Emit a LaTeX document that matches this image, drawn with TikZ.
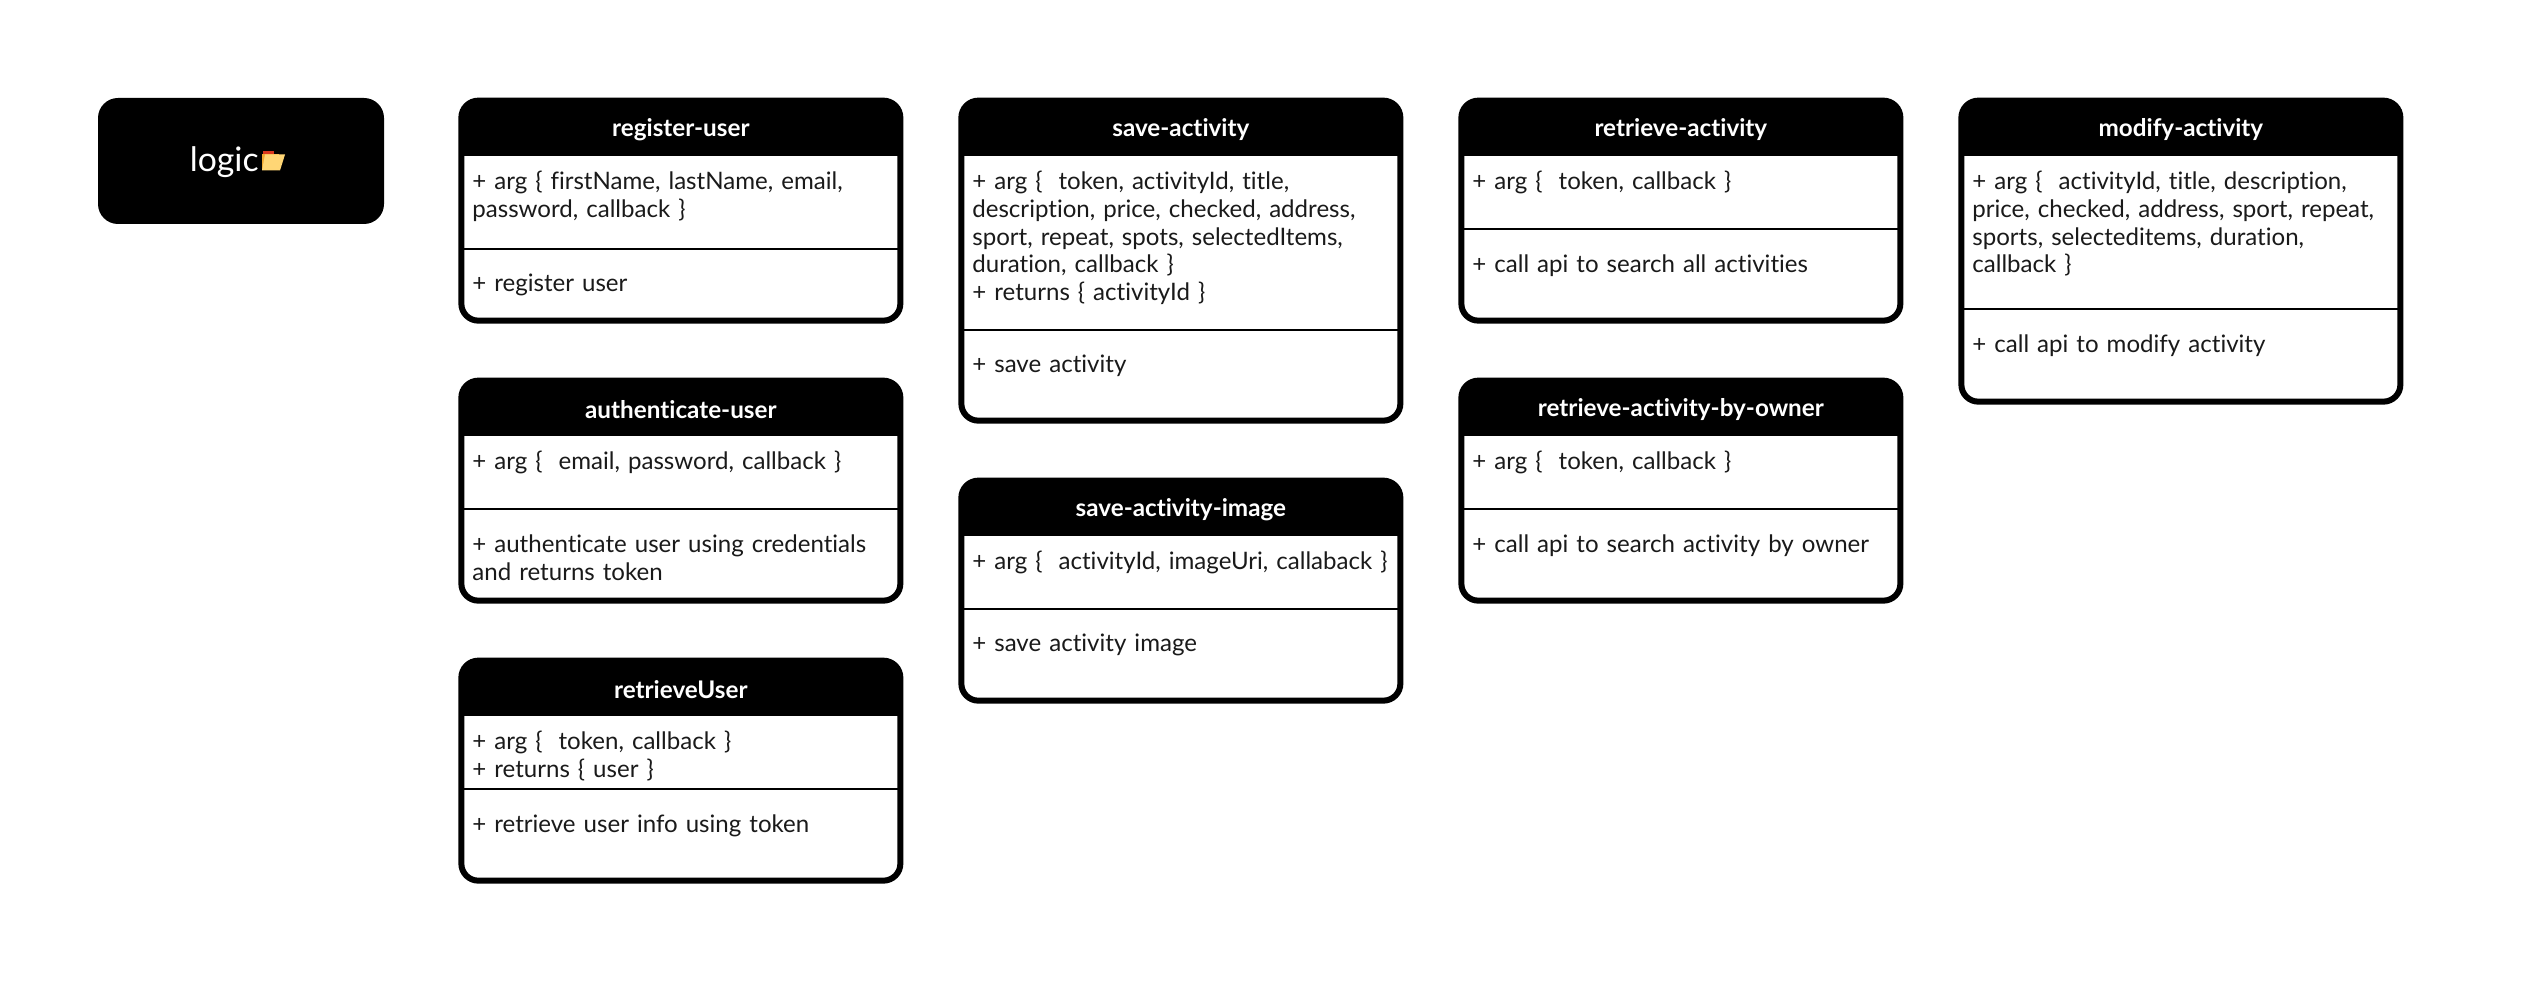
\documentclass[tikz,border=0pt]{standalone}
\usepackage{fontspec}
\setmainfont{Lato}[WordSpace=0.85,Ligatures=NoCommon]
\usetikzlibrary{positioning}
\definecolor{Ink}{HTML}{1A1A1A}
\definecolor{Folder}{HTML}{FFD675}
\definecolor{FolderBack}{HTML}{F0A830}
\definecolor{FolderTab}{HTML}{D9381E}

\begin{document}
\begin{tikzpicture}[node distance=1.08cm,
        rootbox/.style={fill=black,rounded corners=0.4cm,minimum width=5.72cm,minimum height=2.52cm,inner sep=0pt},
        rootlabel/.style={text=white,inner sep=0pt,font=\fontsize{19.2}{23}\selectfont},
        cardbox/.style={draw=black,fill=white,line width=0.12cm,rounded corners=0.34cm,minimum width=8.78cm,inner sep=0pt,
          path picture={\fill[black,sharp corners] (path picture bounding box.north west) rectangle ([yshift=-1.1cm]path picture bounding box.north east);}},
        cardtitle/.style={text=white,minimum width=8.9cm,minimum height=1.26cm,inner sep=0pt,font=\fontsize{13.8}{15.9}\selectfont\bfseries},
        cardtext/.style={text=Ink,text width=8.4cm,align=left,inner xsep=0pt,inner ysep=0.18cm,xshift=0.03cm,font=\fontsize{13.7}{15.9}\selectfont},
        opstext/.style={cardtext,inner ysep=0.47cm},
        divider/.style={fill=black,minimum width=8.78cm,minimum height=0.05cm,inner sep=0pt}]
        \useasboundingbox (0,0) rectangle (50.44,-20.04);
        \node[rootbox] (logic) at (4.82,-3.22) {};
        \node[rootlabel,anchor=east] (logicLabel) at (5.18,-3.24) {logic};
        \begin{scope}[shift={(logicLabel.east)}]
          \fill[FolderTab] (0.08,0.14) rectangle (0.3,0.21);
          \fill[FolderBack] (0.06,-0.16) rectangle (0.4,0.16);
          \fill[Folder] (0.12,0.15) -- (0.52,0.15) -- (0.42,-0.17) -- (0.06,-0.17) -- cycle;
        \end{scope}

        % first column
        \node[cardbox,minimum height=4.4cm,anchor=north west,below right=0cm and 1.48cm of logic.north east] (registerUser) {};
        \node[cardtitle,below=0cm of registerUser.north] (registerUserHead) {register-user};
        \node[cardtext,below=0cm of registerUserHead] (registerUserArgs) {+ arg \{ firstName, lastName, email,\\ password, callback \}};
        \node[divider,below=1.72cm of registerUserHead] (registerUserRule) {};
        \node[opstext,below=0cm of registerUserRule] (registerUserOps) {+ register user};

        \node[cardbox,minimum height=4.4cm,below=of registerUser] (authenticateUser) {};
        \node[cardtitle,below=0cm of authenticateUser.north] (authenticateUserHead) {authenticate-user};
        \node[cardtext,below=0cm of authenticateUserHead] (authenticateUserArgs) {+ arg \{\ \ email, password, callback \}};
        \node[divider,below=1.32cm of authenticateUserHead] (authenticateUserRule) {};
        \node[opstext,below=0cm of authenticateUserRule] (authenticateUserOps) {+ authenticate user using credentials\\ and returns token};

        \node[cardbox,minimum height=4.4cm,below=of authenticateUser] (retrieveUser) {};
        \node[cardtitle,below=0cm of retrieveUser.north] (retrieveUserHead) {retrieveUser};
        \node[cardtext,below=0cm of retrieveUserHead] (retrieveUserArgs) {+ arg \{\ \ token, callback \}\\ + returns \{ user \}};
        \node[divider,below=1.32cm of retrieveUserHead] (retrieveUserRule) {};
        \node[opstext,below=0cm of retrieveUserRule] (retrieveUserOps) {+ retrieve user info using token};

        % second column
        \node[cardbox,minimum height=6.4cm,anchor=north west,below right=0cm and 1.1cm of registerUser.north east] (saveActivity) {};
        \node[cardtitle,below=0cm of saveActivity.north] (saveActivityHead) {save-activity};
        \node[cardtext,below=0cm of saveActivityHead] (saveActivityArgs) {+ arg \{\ \ token, activityId, title,\\ description, price, checked, address,\\ sport, repeat, spots, selectedItems,\\ duration, callback \}\\ + returns \{ activityId \}};
        \node[divider,below=3.34cm of saveActivityHead] (saveActivityRule) {};
        \node[opstext,below=0cm of saveActivityRule] (saveActivityOps) {+ save activity};

        \node[cardbox,minimum height=4.4cm,below=of saveActivity] (saveActivityImage) {};
        \node[cardtitle,below=0cm of saveActivityImage.north] (saveActivityImageHead) {save-activity-image};
        \node[cardtext,below=0cm of saveActivityImageHead] (saveActivityImageArgs) {+ arg \{\ \ activityId, imageUri, callaback \}};
        \node[divider,below=1.32cm of saveActivityImageHead] (saveActivityImageRule) {};
        \node[opstext,below=0cm of saveActivityImageRule] (saveActivityImageOps) {+ save activity image};

        % third column
        \node[cardbox,minimum height=4.4cm,anchor=north west,below right=0cm and 1.1cm of saveActivity.north east] (retrieveActivity) {};
        \node[cardtitle,below=0cm of retrieveActivity.north] (retrieveActivityHead) {retrieve-activity};
        \node[cardtext,below=0cm of retrieveActivityHead] (retrieveActivityArgs) {+ arg \{\ \ token, callback \}};
        \node[divider,below=1.32cm of retrieveActivityHead] (retrieveActivityRule) {};
        \node[opstext,below=0cm of retrieveActivityRule] (retrieveActivityOps) {+ call api to search all activities};

        \node[cardbox,minimum height=4.4cm,below=of retrieveActivity] (retrieveByOwner) {};
        \node[cardtitle,below=0cm of retrieveByOwner.north] (retrieveByOwnerHead) {retrieve-activity-by-owner};
        \node[cardtext,below=0cm of retrieveByOwnerHead] (retrieveByOwnerArgs) {+ arg \{\ \ token, callback \}};
        \node[divider,below=1.32cm of retrieveByOwnerHead] (retrieveByOwnerRule) {};
        \node[opstext,below=0cm of retrieveByOwnerRule] (retrieveByOwnerOps) {+ call api to search activity by owner};

        % fourth column
        \node[cardbox,minimum height=6.02cm,anchor=north west,below right=0cm and 1.1cm of retrieveActivity.north east] (modifyActivity) {};
        \node[cardtitle,below=0cm of modifyActivity.north] (modifyActivityHead) {modify-activity};
        \node[cardtext,below=0cm of modifyActivityHead] (modifyActivityArgs) {+ arg \{\ \ activityId, title, description,\\ price, checked, address, sport, repeat,\\ sports, selecteditems, duration,\\ callback \}};
        \node[divider,below=2.92cm of modifyActivityHead] (modifyActivityRule) {};
        \node[opstext,below=0cm of modifyActivityRule] (modifyActivityOps) {+ call api to modify activity};
      \end{tikzpicture}
\end{document}
